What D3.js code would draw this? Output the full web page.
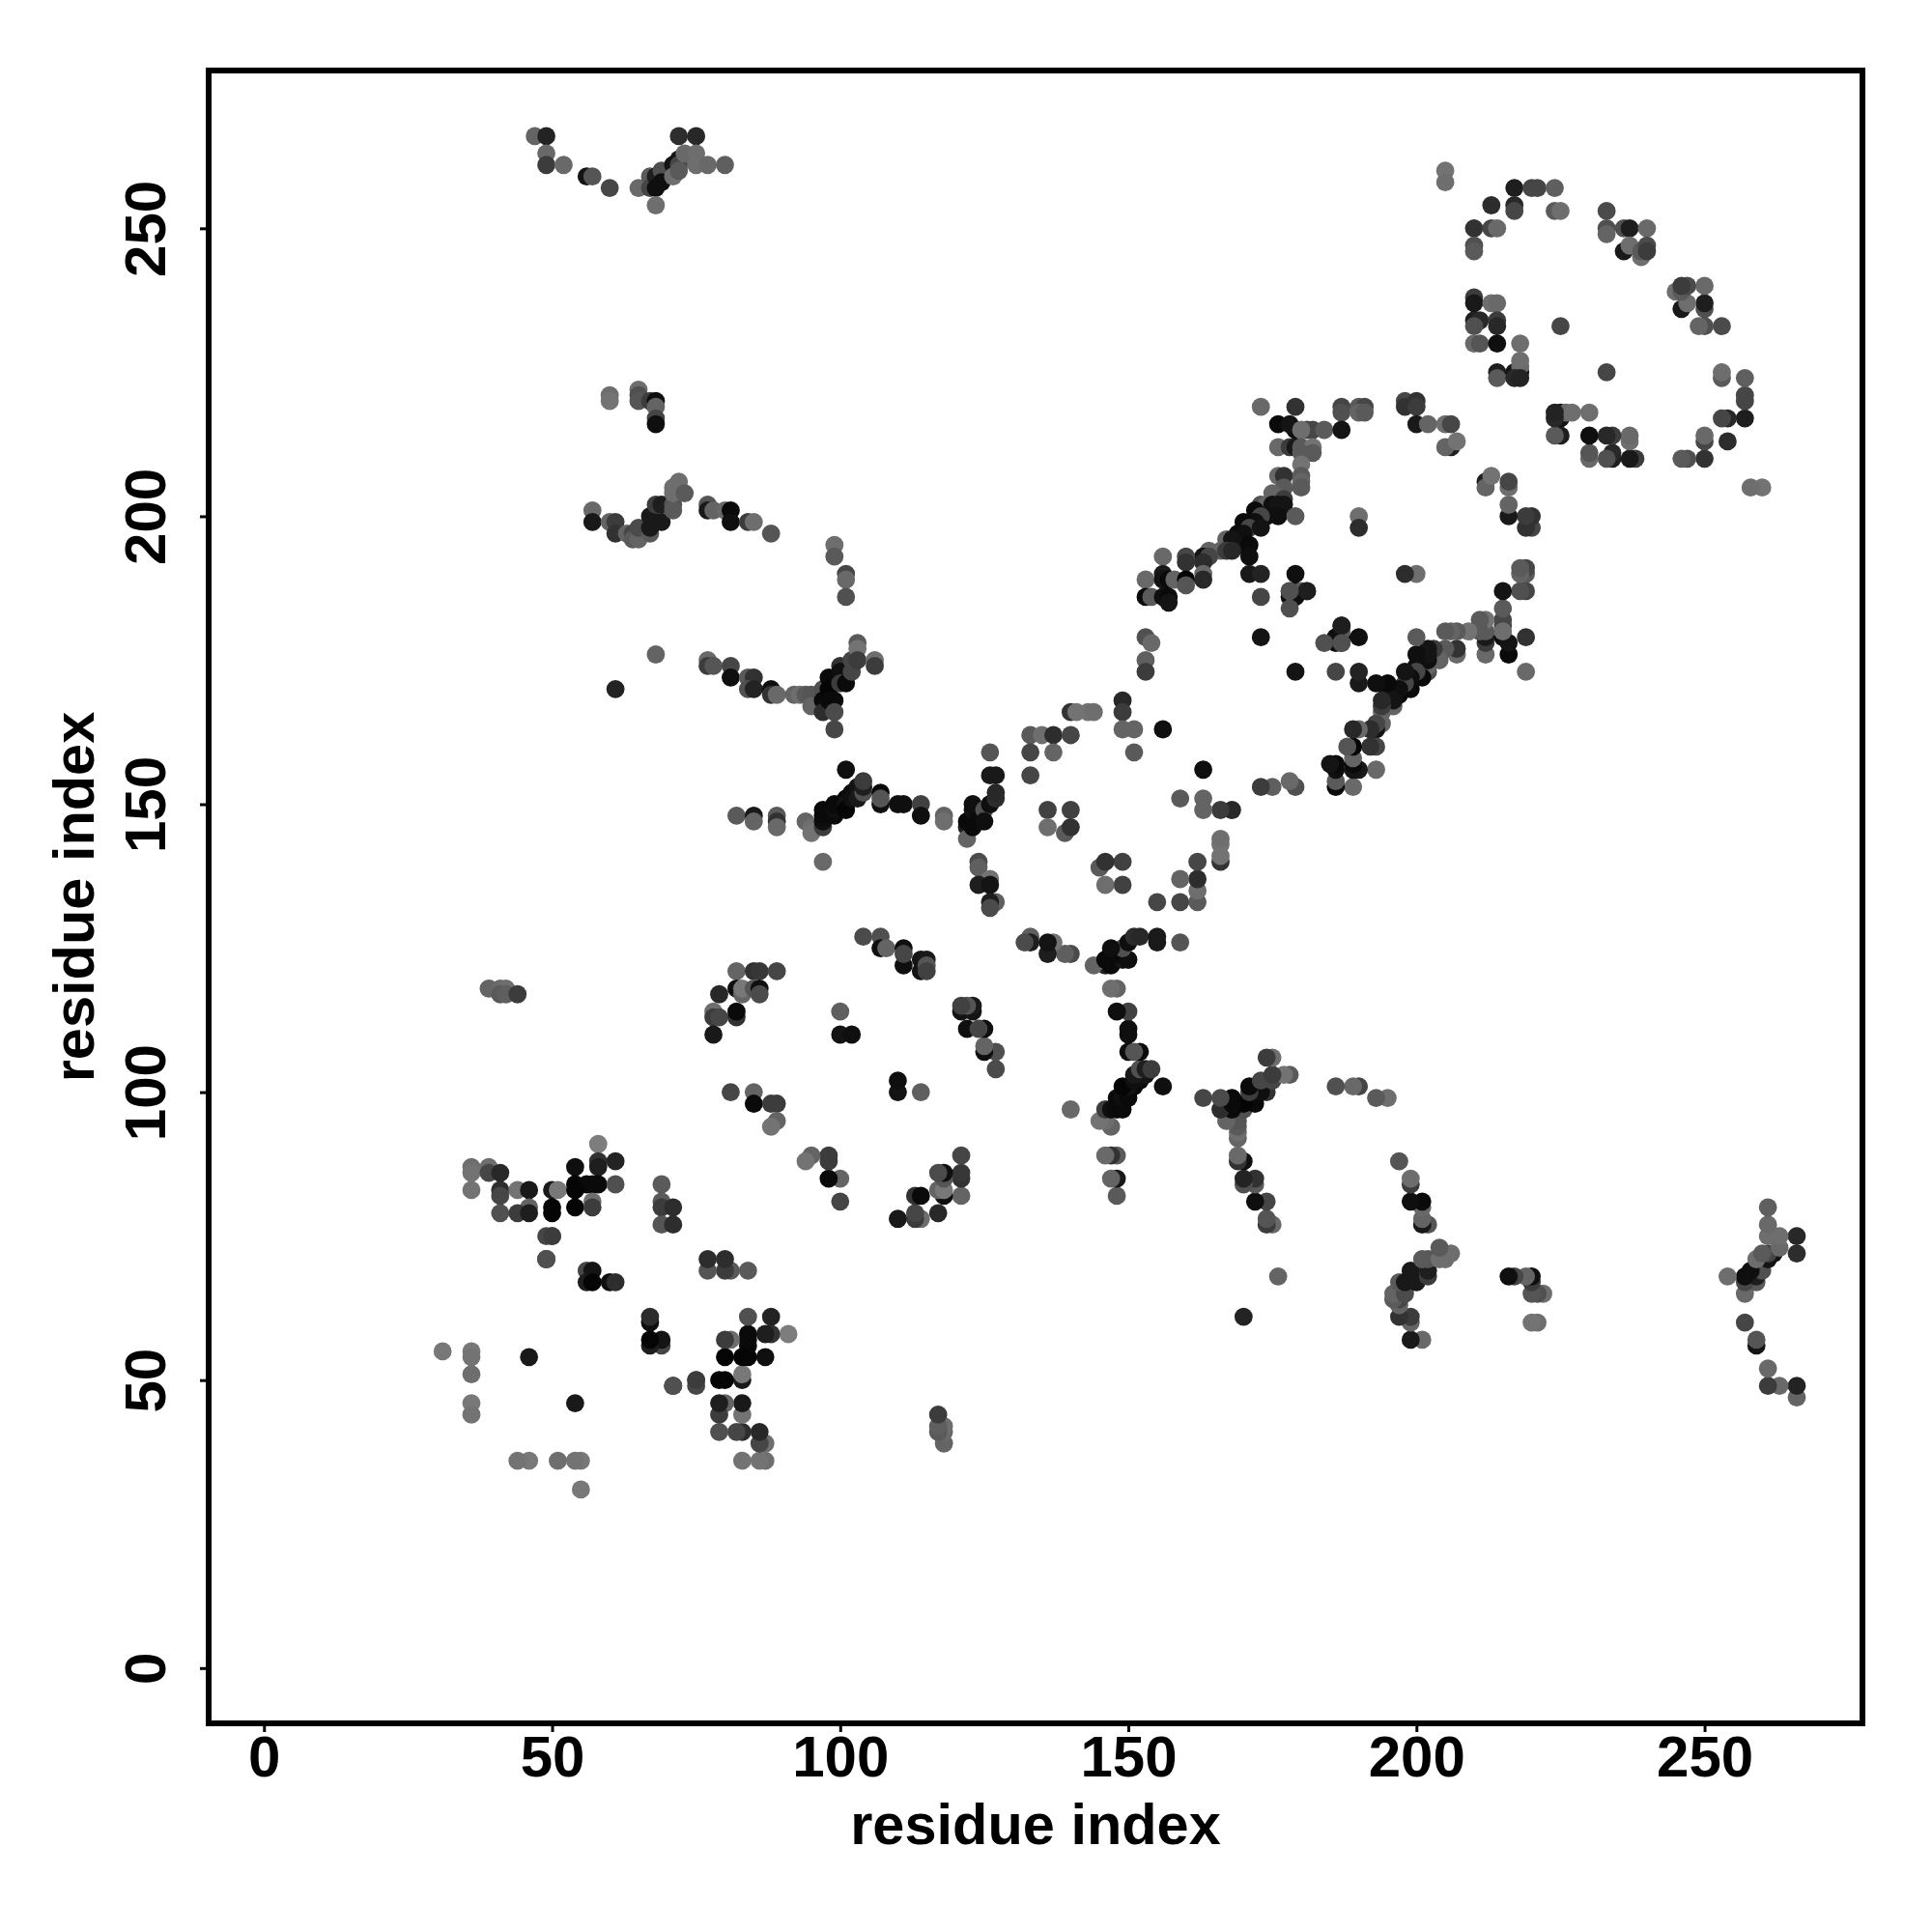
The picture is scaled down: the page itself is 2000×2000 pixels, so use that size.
<!DOCTYPE html>
<html><head><meta charset="utf-8">
<script src="https://cdn.jsdelivr.net/npm/d3@7/dist/d3.min.js"></script>
<style>html,body{margin:0;padding:0;background:#fff}svg{display:block}</style>
</head><body><div id="chart"></div>
<script>
// Each contact is [residue i, residue j, grey level]; the map is symmetric so (j,i) is drawn as well.
const clusterA = [[58,91,125],[58,88,50],[61,88,35],[36,87,110],[39,87,110],[54,87,15],[58,87,30],[36,86,115],[39,86,70],[41,86,40],[54,84,5],[56,84,10],[57,84,10],[58,84,10],[61,84,80],[36,83,115],[41,83,45],[44,83,115],[46,83,25],[50,83,25],[51,83,120],[54,83,5],[41,82,70],[57,81,110],[46,80,100],[50,80,5],[54,80,5],[57,80,60],[41,79,80],[44,79,60],[46,79,30],[50,79,5],[49,75,70],[50,75,90],[49,71,80],[56,69,70],[57,69,20],[56,67,30],[57,67,5],[60,67,15],[61,67,45]];
const clusterB = [[81,100,70],[85,100,100],[85,98,10],[88,98,60],[89,98,60],[89,95,100],[88,94,115],[69,84,90],[69,81,90],[69,80,60],[71,80,45],[69,77,85],[71,77,45],[46,54,25],[36,51,110],[36,55,120],[31,55,120],[36,54,115],[36,46,120],[36,44,115],[49,71,80],[71,49,80],[50,75,60]];
const clusterC = [[82,148,90],[85,148,25],[89,148,90],[85,147,100],[89,147,50],[89,146,105],[94,147,100],[95,146,110],[95,145,115],[97,146,60],[97,147,15],[97,148,10],[97,149,10],[99,148,10],[99,149,15],[99,150,10],[100,150,10],[101,151,10],[101,150,20],[101,149,5],[101,156,15],[102,152,10],[102,151,15],[103,153,20],[103,151,25],[104,152,80],[104,153,30],[104,154,60],[107,150,15],[107,152,10],[107,151,85],[110,150,15],[111,150,15],[114,150,65],[114,148,15],[118,148,100],[118,147,110]];
const clusterD = [[122,146,30],[122,144,100],[122,147,10],[123,146,10],[124,147,10],[123,149,20],[124,148,10],[123,150,15],[125,149,80],[125,147,15],[126,150,15],[127,151,45],[127,152,40],[126,155,25],[127,155,25],[126,159,85],[97,140,105],[124,140,75],[124,139,95],[126,137,115],[124,136,30],[126,136,20],[127,133,95],[126,133,30],[126,132,75]];
const clusterE = [[136,149,65],[140,149,65],[136,146,110],[139,145,90],[140,146,50],[133,162,90],[135,162,110],[137,162,45],[140,162,70],[133,159,70],[137,159,100],[133,155,70],[140,166,50],[141,166,115],[143,166,115],[144,166,110],[149,168,40],[149,166,60],[149,163,100],[151,163,100],[156,163,15],[151,159,90]];
const clusterF = [[104,127,75],[107,127,80],[107,125,15],[108,125,100],[111,125,15],[111,122,15],[111,124,70],[114,123,20],[115,123,25],[114,121,20],[115,122,85],[115,121,65],[82,121,100],[85,121,50],[86,121,55],[89,121,70],[79,117,40],[82,118,15],[83,117,100],[83,118,120],[85,118,85],[86,118,15],[86,117,75],[78,114,110],[78,113,60],[79,113,70],[82,113,50],[82,114,10],[78,110,25],[100,114,95],[100,110,20],[102,110,15]];
const clusterG = [[173,219,105],[179,219,50],[187,219,70],[190,219,90],[191,219,70],[198,220,70],[200,220,50],[198,219,50],[200,219,60],[187,218,80],[190,218,100],[191,218,90],[176,216,10],[179,215,15],[178,216,20],[181,215,70],[182,215,70],[180,215,110],[184,215,90],[187,215,20],[200,216,25],[202,216,100],[205,216,110],[206,216,70],[206,212,30],[205,212,100],[207,213,115]];
const clusterH = [[176,212,105],[178,212,60],[179,212,25],[180,212,90],[182,212,115],[182,211,90],[180,211,90],[180,209,115],[176,207,105],[177,207,50],[180,207,90],[180,206,100],[180,205,90],[177,205,90],[175,204,100],[177,203,60],[173,202,80],[174,202,100],[175,202,15],[176,202,20],[177,202,20],[172,201,10],[174,200,15],[176,200,15],[173,200,70],[179,200,90],[172,199,15],[170,199,10],[171,198,70],[173,198,20],[169,197,10],[170,197,15],[167,196,100],[168,196,20],[169,195,20],[171,195,10],[164,194,100],[166,194,100],[167,194,60],[168,194,40],[163,193,20],[164,193,70],[171,193,15]];
const clusterI = [[156,193,105],[160,193,70],[160,192,50],[163,192,45],[153,189,105],[156,190,25],[156,189,20],[157,189,10],[158,189,100],[160,189,5],[160,188,85],[163,190,105],[163,189,40],[153,186,10],[154,186,90],[156,186,15],[157,186,10],[157,185,20],[171,190,25],[173,190,35],[179,190,15],[173,186,70],[178,187,60],[179,187,10],[180,187,90],[181,187,35],[178,186,15],[179,186,15],[178,184,80],[190,200,110],[190,198,45],[153,179,80],[154,178,105],[153,175,95],[153,173,60],[173,179,20],[181,187,30],[178,187,80]];
const clusterJ = [[205,260,115],[205,258,110],[217,257,30],[220,257,70],[221,257,70],[224,257,95],[213,254,45],[217,254,40],[217,253,70],[224,253,90],[225,253,110],[210,250,50],[213,250,70],[214,250,105],[210,247,80],[210,246,90],[233,253,75],[233,250,80],[233,249,100],[236,250,80],[237,250,30],[240,250,105],[236,246,25],[237,247,110],[239,245,110],[239,246,90],[240,247,75],[240,246,60]];
const clusterK = [[210,238,60],[210,237,25],[213,237,110],[214,237,105],[210,234,30],[211,234,40],[214,234,60],[210,233,80],[214,233,40],[210,230,105],[211,230,85],[214,230,15],[218,230,110],[225,233,70],[214,225,30],[214,224,90],[217,225,20],[218,225,15],[218,226,105],[218,227,110],[217,224,40],[218,224,35]];
const clusterL = [[47,266,100],[49,266,35],[49,263,105],[49,261,60],[52,261,105],[56,259,20],[57,259,85],[60,257,70],[65,257,105],[67,259,90],[67,257,70],[68,259,30],[68,257,15],[68,254,110],[69,260,80],[69,258,15],[71,261,20],[71,259,110],[72,262,20],[72,261,70],[72,260,90],[72,266,45],[75,266,40],[73,263,105],[75,263,110],[75,261,110],[77,261,105],[80,261,95]];
const clusterM = [[60,221,110],[60,220,115],[65,222,110],[65,221,80],[65,220,85],[67,220,60],[68,220,15],[68,219,100],[68,217,70],[68,216,15],[57,201,105],[57,199,25],[60,199,100],[61,199,60],[61,197,50],[63,197,100],[64,197,70],[64,196,90],[65,196,100],[65,198,75],[67,197,90],[67,198,25],[67,200,25],[68,202,60],[69,199,25],[69,202,30],[71,202,85],[71,201,90],[71,205,110],[72,206,110],[71,204,110],[73,204,90],[77,202,85],[77,201,25],[78,201,100],[80,201,105],[81,201,10],[81,199,15],[84,199,60],[85,199,110],[88,197,85],[99,195,110],[99,193,90],[101,190,70],[101,189,105],[101,186,80]];
const clusterN = [[61,170,35],[68,176,100],[77,175,105],[77,174,60],[78,174,85],[81,174,70],[81,172,15],[84,172,90],[85,172,50],[84,170,80],[85,170,35],[88,170,15],[88,169,50],[89,169,105],[92,169,100],[93,169,110],[94,169,90],[95,169,85],[95,167,100],[97,170,80],[97,168,10],[97,166,45],[98,172,10],[98,170,5],[98,168,10],[99,168,10],[99,166,75],[99,163,70],[100,174,50],[100,173,15],[100,171,60],[101,171,10],[102,173,70],[102,175,70],[103,178,90],[103,177,115],[103,175,60],[106,175,110],[106,174,60]];
const clusterO = [[39,118,100],[41,118,105],[42,118,110],[41,117,90],[42,117,95],[44,117,60]];
const tickValues = [0, 50, 100, 150, 200, 250];
const axisTitle = "residue index";
const axisDomain = [-9.6, 277.4];

const allClusters = [clusterA,clusterB,clusterC,clusterD,clusterE,clusterF,clusterG,clusterH,clusterI,clusterJ,clusterK,clusterL,clusterM,clusterN,clusterO];

const W = 2000, H = 2000;
const box = {left:216, right:1928, top:73, bottom:1784};
const font = "'Liberation Sans', Arial, sans-serif";
const x = d3.scaleLinear().domain(axisDomain).range([box.left, box.right]);
const y = d3.scaleLinear().domain(axisDomain).range([box.bottom, box.top]);

const svg = d3.select("#chart").append("svg").attr("width",W).attr("height",H);
svg.append("rect").attr("width",W).attr("height",H).attr("fill","#fff");

const pts = [];
allClusters.forEach(c => c.forEach(([i,j,g]) => {
  pts.push({a:i,b:j,g}); pts.push({a:j,b:i,g});
}));
svg.append("g").selectAll("circle").data(pts).join("circle")
  .attr("cx",d=>x(d.a)).attr("cy",d=>y(d.b)).attr("r",9.4)
  .attr("fill",d=>d3.rgb(d.g,d.g,d.g));

svg.append("rect").attr("x",box.left).attr("y",box.top)
  .attr("width",box.right-box.left).attr("height",box.bottom-box.top)
  .attr("fill","none").attr("stroke","#000").attr("stroke-width",6);

const gx = svg.append("g").attr("transform",`translate(0,${box.bottom})`)
  .call(d3.axisBottom(x).tickValues(tickValues).tickSize(9).tickPadding(0).tickFormat(d3.format("d")));
gx.select(".domain").remove();
gx.selectAll("line").attr("stroke","#000").attr("stroke-width",3);
gx.selectAll("text").attr("font-family",font).attr("font-weight","bold").attr("font-size",60)
  .attr("fill","#000").attr("y",55).attr("dy",0).attr("text-anchor","middle");

const gy = svg.append("g").attr("transform",`translate(${box.left},0)`)
  .call(d3.axisLeft(y).tickValues(tickValues).tickSize(9).tickPadding(0).tickFormat(d3.format("d")));
gy.select(".domain").remove();
gy.selectAll("line").attr("stroke","#000").attr("stroke-width",3);
gy.selectAll("text").attr("font-family",font).attr("font-weight","bold").attr("font-size",60)
  .attr("fill","#000").attr("x",null).attr("y",null).attr("dy",0).attr("text-anchor","middle")
  .attr("transform","translate(-45,0) rotate(-90)");

svg.append("text").text(axisTitle).attr("x",(box.left+box.right)/2).attr("y",1909)
  .attr("text-anchor","middle").attr("font-family",font).attr("font-weight","bold").attr("font-size",59.5);
svg.append("text").text(axisTitle).attr("text-anchor","middle").attr("font-family",font)
  .attr("font-weight","bold").attr("font-size",59.5)
  .attr("transform",`translate(97,${(box.top+box.bottom)/2}) rotate(-90)`);
</script></body></html>
